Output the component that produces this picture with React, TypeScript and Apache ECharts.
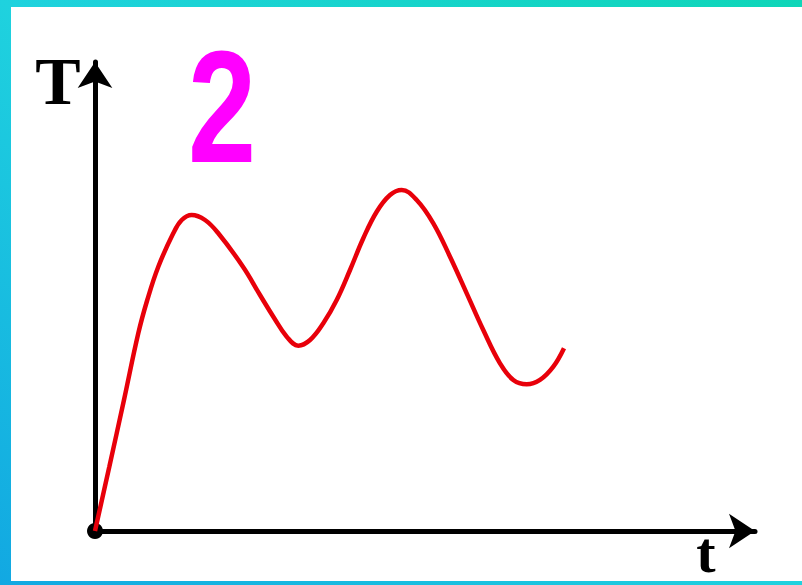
import React, { useEffect, useRef } from "react";
import * as echarts from "echarts";

// Time (t) and temperature (T) readings of the curve, in arbitrary units
const timeValues = [0, 0.217, 0.439, 0.656, 0.792, 0.959, 1.186, 1.314, 1.465, 1.667, 1.868, 2.242, 2.5, 2.702, 2.905, 3.08, 3.258, 3.459, 3.662, 3.864, 4.065, 4.268, 4.47, 4.647, 4.874, 5.126, 5.379, 5.632, 5.883, 6.136, 6.338, 6.541, 6.742, 6.944, 7.106];
const tempValues = [0, 1.371, 2.793, 4.215, 4.925, 5.635, 6.348, 6.631, 6.738, 6.631, 6.348, 5.635, 5.032, 4.569, 4.143, 3.951, 4.072, 4.429, 4.925, 5.565, 6.241, 6.808, 7.164, 7.271, 7.058, 6.561, 5.849, 5.068, 4.286, 3.576, 3.22, 3.128, 3.22, 3.503, 3.896];
const origin = [0, 0];
const axisMin = 0;
const axisMax = 10;
const yAxisLabel = "T";
const xAxisLabel = "t";
const panelNumber = "2";

export default function App() {
  const ref = useRef<HTMLDivElement>(null);

  useEffect(() => {
    if (!ref.current) return;
    const chart = echarts.init(ref.current, null, { renderer: "svg" });
    const curve = timeValues.map((t, i) => [t, tempValues[i]]);
    const axisLine = {
      show: true,
      symbol: ["none", "arrow"],
      symbolSize: [26, 26],
      lineStyle: { color: "#000", width: 5 },
    };
    chart.setOption({
      animation: false,
      backgroundColor: "#ffffff",
      grid: { left: 95, right: 47, top: 62, bottom: 54 },
      xAxis: {
        type: "value",
        min: axisMin,
        max: axisMax,
        axisLine,
        axisTick: { show: false },
        axisLabel: { show: false },
        splitLine: { show: false },
      },
      yAxis: {
        type: "value",
        min: axisMin,
        max: axisMax,
        axisLine,
        axisTick: { show: false },
        axisLabel: { show: false },
        splitLine: { show: false },
      },
      graphic: [
        {
          type: "rect",
          z: -10,
          silent: true,
          shape: { x: 0, y: 0, width: 802, height: 585 },
          style: {
            fill: new echarts.graphic.LinearGradient(0, 1, 1, 0, [
              { offset: 0, color: "#12a8e2" },
              { offset: 0.5, color: "#1fd2de" },
              { offset: 1, color: "#0ed6b8" },
            ]),
          },
        },
        {
          type: "rect",
          z: -9,
          silent: true,
          shape: { x: 11, y: 7, width: 791, height: 574 },
          style: { fill: "#ffffff" },
        },
        {
          type: "text",
          z: 10,
          x: 58,
          y: 81,
          style: {
            text: yAxisLabel,
            fontFamily: "'Liberation Serif', 'Times New Roman', serif",
            fontWeight: "bold",
            fontSize: 68,
            fill: "#000",
            align: "center",
            verticalAlign: "middle",
          },
        },
        {
          type: "text",
          z: 10,
          x: 706,
          y: 552,
          style: {
            text: xAxisLabel,
            fontFamily: "'Liberation Serif', 'Times New Roman', serif",
            fontWeight: "bold",
            fontSize: 58,
            fill: "#000",
            align: "center",
            verticalAlign: "middle",
          },
        },
        {
          type: "text",
          z: 10,
          x: 222,
          y: 107,
          scaleX: 0.77,
          style: {
            text: panelNumber,
            fontFamily: "'Liberation Sans', Arial, sans-serif",
            fontWeight: "bold",
            fontSize: 159,
            fill: "#ff00ff",
            align: "center",
            verticalAlign: "middle",
          },
        },
      ],
      series: [
        {
          type: "scatter",
          z: 3,
          data: [origin],
          symbol: "circle",
          symbolSize: 16,
          itemStyle: { color: "#000", opacity: 1 },
          silent: true,
        },
        {
          type: "line",
          z: 4,
          data: curve,
          smooth: 0.4,
          showSymbol: false,
          lineStyle: { color: "#e8000a", width: 4.5 },
          silent: true,
        },
      ],
    });
    return () => chart.dispose();
  }, []);

  return (
    <div
      ref={ref}
      style={{ position: "fixed", left: 0, top: 0, width: 802, height: 585 }}
    />
  );
}
